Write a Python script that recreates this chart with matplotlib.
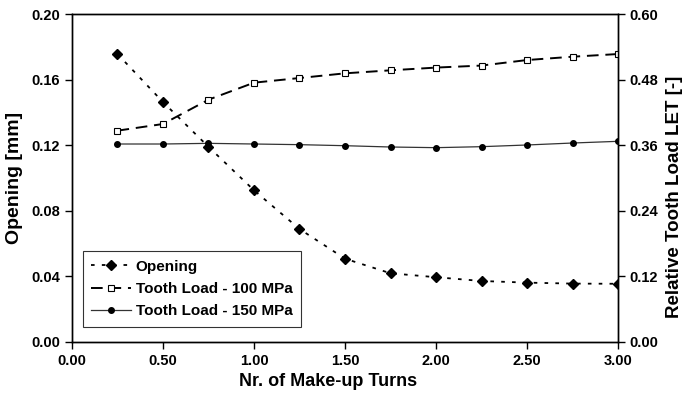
import matplotlib
matplotlib.use("Agg")
import matplotlib.pyplot as plt

plt.rcParams['font.family'] = ['Liberation Sans', 'DejaVu Sans']
plt.rcParams['font.weight'] = 'bold'

turns = [0.25, 0.5, 0.75, 1.0, 1.25, 1.5, 1.75, 2.0, 2.25, 2.5, 2.75, 3.0]
opening = [0.1756, 0.1463, 0.1190, 0.0925, 0.0689, 0.0508, 0.0419, 0.0395, 0.0372, 0.0362, 0.0356, 0.0355]
tooth_100 = [0.3866, 0.3988, 0.4433, 0.4744, 0.4829, 0.4915, 0.4970, 0.5020, 0.5057, 0.5158, 0.5219, 0.5268]
tooth_150 = [0.3622, 0.3622, 0.3634, 0.3622, 0.3610, 0.3591, 0.3567, 0.3555, 0.3573, 0.3604, 0.3640, 0.3671]

x_ticks = [0.0, 0.5, 1.0, 1.5, 2.0, 2.5, 3.0]
y_left_ticks = [0.0, 0.04, 0.08, 0.12, 0.16, 0.20]
y_right_ticks = [0.0, 0.12, 0.24, 0.36, 0.48, 0.60]

fig = plt.figure(figsize=(6.85, 3.96), dpi=100)
ax = fig.add_axes([0.1051, 0.1364, 0.9022 - 0.1051, 0.9646 - 0.1364])
ax2 = ax.twinx()

l1, = ax.plot(turns, opening, color='black', linestyle=(0, (2, 4)), linewidth=1.3,
              marker='D', markersize=5, markerfacecolor='black', markeredgecolor='black',
              label='Opening', zorder=3)
l2, = ax2.plot(turns, tooth_100, color='black', linestyle=(0, (6, 3.5)), linewidth=1.4,
               marker='s', markersize=4.2, markerfacecolor='white', markeredgecolor='black',
               markeredgewidth=0.8, label='Tooth Load - 100 MPa')
l3, = ax2.plot(turns, tooth_150, color='#333333', linestyle='-', linewidth=0.9,
               marker='o', markersize=4, markerfacecolor='black', markeredgecolor='black',
               label='Tooth Load - 150 MPa')

ax.set_xlim(0, 3.0)
ax.set_ylim(0, 0.20)
ax2.set_ylim(0, 0.60)
ax.set_xticks(x_ticks)
ax.set_xticklabels([f"{v:.2f}" for v in x_ticks])
ax.set_yticks(y_left_ticks)
ax.set_yticklabels([f"{v:.2f}" for v in y_left_ticks])
ax2.set_yticks(y_right_ticks)
ax2.set_yticklabels([f"{v:.2f}" for v in y_right_ticks])

for a in (ax, ax2):
    a.tick_params(direction='out', length=5, width=1, labelsize=10.5, colors='black')
    for s in a.spines.values():
        s.set_linewidth(1.0)
        s.set_color('black')

ax.set_xlabel('Nr. of Make-up Turns', fontsize=13, fontweight='bold')
ax.xaxis.set_label_coords(0.469, -0.095)
ax.set_ylabel('Opening [mm]', fontsize=14, fontweight='bold', labelpad=6)
ax2.set_ylabel('Relative Tooth Load LET [-]', fontsize=13.5, fontweight='bold', labelpad=5)
ax2.yaxis.label.set_y(0.442)

leg = ax.legend(handles=[l1, l2, l3], loc='lower left', bbox_to_anchor=(0.02, 0.046),
                borderaxespad=0,
                frameon=True, fancybox=False, edgecolor='black', fontsize=11,
                handlelength=2.6, borderpad=0.55, labelspacing=0.55, handletextpad=0.3)
leg.get_frame().set_linewidth(0.8)
leg.set_zorder(10)

fig.savefig('out.png', dpi=100)
